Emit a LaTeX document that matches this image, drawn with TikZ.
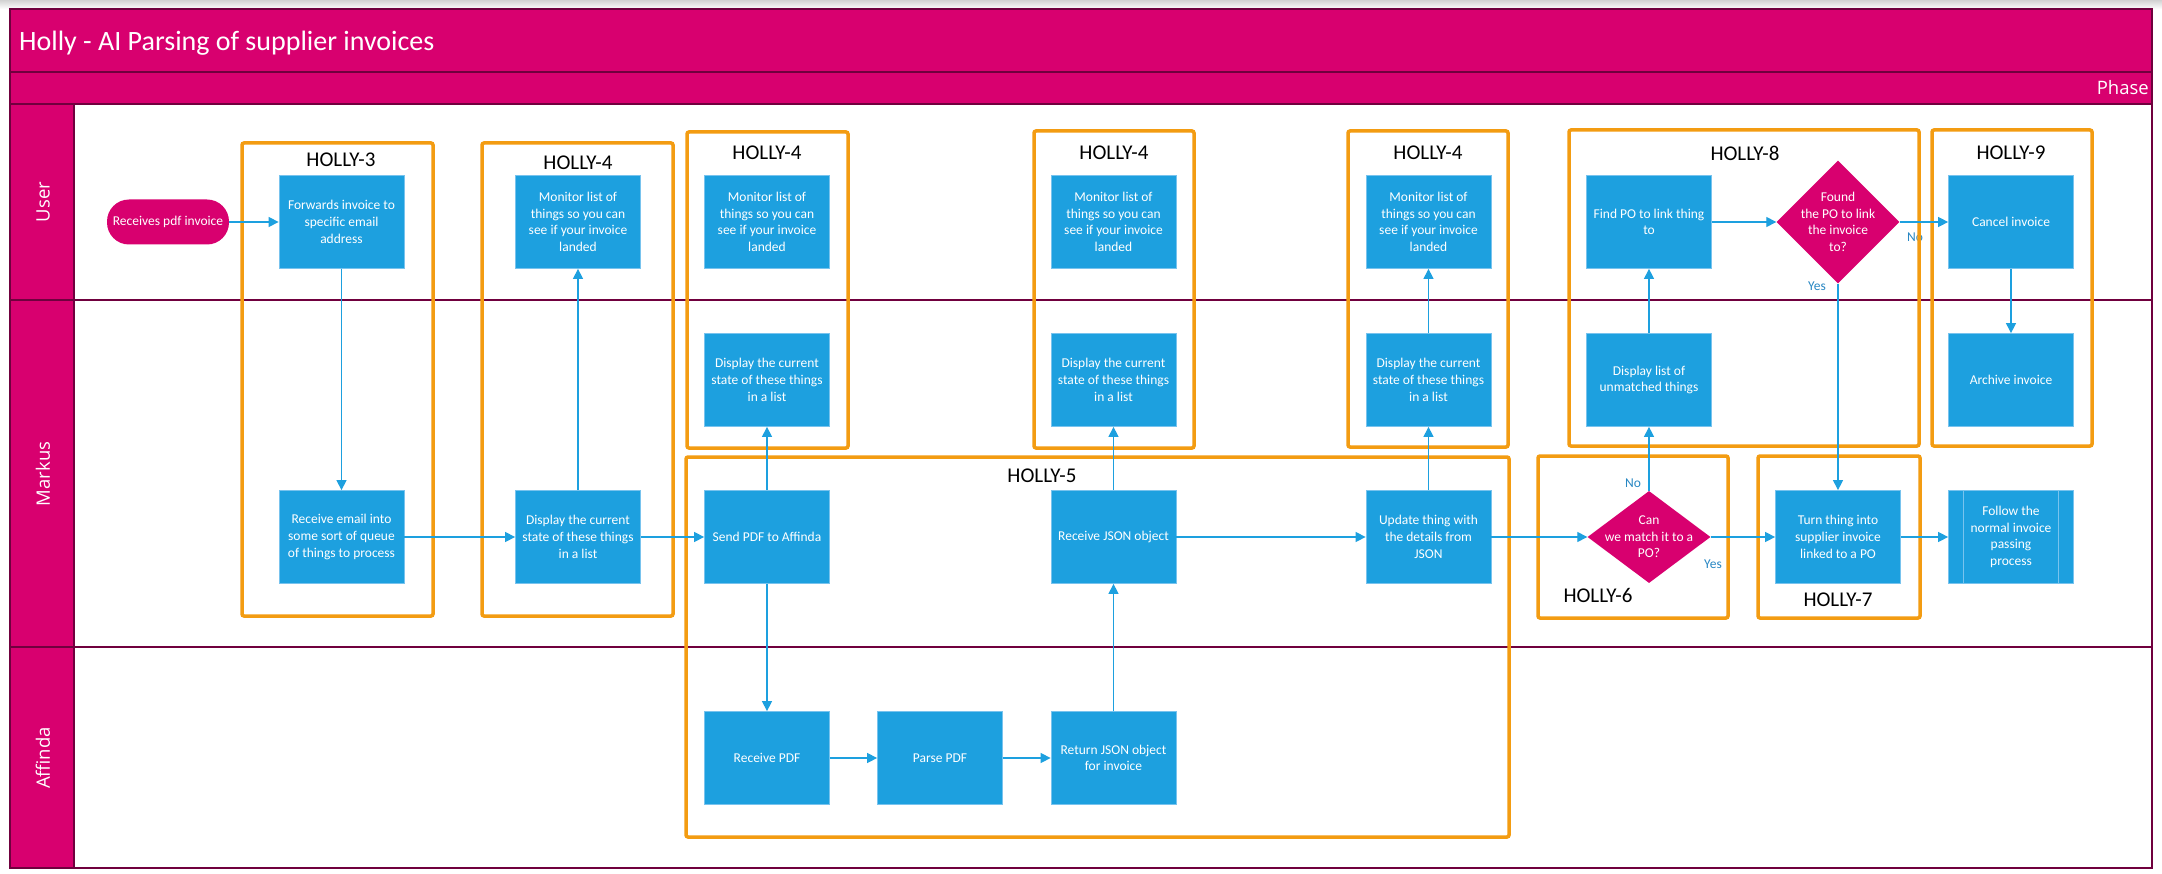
\documentclass[tikz,border=0pt]{standalone}
\usepackage{fontspec}
\setmainfont{Carlito}
\newfontfamily\lanefont{Open Sans}
\usetikzlibrary{shapes.geometric,arrows.meta}
\definecolor{pblue}{RGB}{29,160,223}
\definecolor{pedge}{RGB}{120,195,238}
\definecolor{pmag}{RGB}{216,0,111}
\definecolor{pdark}{RGB}{112,0,62}
\definecolor{porange}{RGB}{243,156,18}
\definecolor{plabel}{RGB}{40,135,195}
\begin{document}
\begin{tikzpicture}[x=1pt,y=-1pt,
  proc/.style={rectangle, fill=pblue, draw=pedge, line width=0.8pt, minimum width=125pt, minimum height=93pt, inner sep=0pt, text=white, align=center, font=\fontsize{13.5}{16.7}\selectfont},
  term/.style={rectangle, rounded corners=22pt, fill=pmag, minimum width=122pt, minimum height=45pt, inner sep=0pt, text=white, font=\fontsize{13.5}{16.7}\selectfont},
  decision/.style={diamond, fill=pmag, draw=none, inner sep=0pt, minimum width=123pt, minimum height=123pt},
  dtext/.style={text=white, align=center, inner sep=0pt, font=\fontsize{13.5}{16.5}\selectfont},
  group/.style={draw=porange, line width=3.5pt, rounded corners=2pt},
  hl/.style={text=black, inner sep=0pt, font=\fontsize{21}{25}\selectfont},
  yn/.style={text=plabel, inner sep=0pt, font=\fontsize{13.5}{16}\selectfont},
  lanelab/.style={text=white, inner sep=0pt, rotate=90, font=\lanefont\fontsize{18.5}{22}\selectfont},
  lane/.style={draw=pdark, line width=2pt},
  arr/.style={draw=pblue, line width=1.3pt, -{Triangle[length=10pt,width=10pt]}}
]
\useasboundingbox (0,0) rectangle (2162,874);
\fill[white] (0,0) rectangle (2162,874);
\shade[top color=gray!35, bottom color=white] (0,0) rectangle (2162,9);

% pool frame
\fill[pmag] (10,9) rectangle (2152,104);
\fill[pmag] (10,104) rectangle (74,868);
\draw[lane, line width=1.5pt] (10,72) -- (2152,72);
\draw[lane] (10,104) -- (2152,104);
\draw[lane] (74,104) -- (74,868);
\draw[lane] (10,300) -- (2152,300);
\draw[lane] (10,647) -- (2152,647);
\draw[lane] (10,9) rectangle (2152,868);

\node[anchor=base west, text=white, inner sep=0pt, font=\fontsize{28}{32}\selectfont] (title) at (19,51) {Holly - AI Parsing of supplier invoices};
\node[anchor=base east, text=white, inner sep=0pt, font=\lanefont\fontsize{18.5}{22}\selectfont] (phase) at (2149,95) {Phase};
\node[lanelab] (lu) at (43,202) {User};
\node[lanelab] (lm) at (43,474) {Markus};
\node[lanelab] (la) at (43,758) {Affinda};

% yes/no label under the HOLLY-8 frame edge
\node[yn, anchor=west] (no2) at (1907,237) {No};

% groups
\draw[group] (242,143) rectangle (433,616);
\draw[group] (482,143) rectangle (673,616);
\draw[group] (687,132) rectangle (848,448);
\draw[group] (1034,131) rectangle (1194,448);
\draw[group] (1348,131) rectangle (1508,447);
\draw[group] (1569,130) rectangle (1919,446);
\draw[group] (1932,130) rectangle (2092,446);
\draw[group] (686,457) rectangle (1509,837);
\draw[group] (1538,456) rectangle (1728,618);
\draw[group] (1758,456) rectangle (1920,618);

\node[hl] (h3) at (341,160) {HOLLY-3};
\node[hl] (h4a) at (578,163) {HOLLY-4};
\node[hl] (h4b) at (767,153) {HOLLY-4};
\node[hl] (h4c) at (1114,153) {HOLLY-4};
\node[hl] (h4d) at (1428,153) {HOLLY-4};
\node[hl] (h8) at (1745,153) {HOLLY-8};
\node[hl] (h9) at (2011,153) {HOLLY-9};
\node[hl] (h5) at (1042,476) {HOLLY-5};
\node[hl] (h6) at (1598,595) {HOLLY-6};
\node[hl] (h7) at (1838,600) {HOLLY-7};

% User lane
\node[term] (start) at (168,222) {Receives pdf invoice};
\node[proc] (fwd) at (341.5,222) {Forwards invoice to\\specific email\\address};
\node[proc] (mon1) at (578,222) {Monitor list of\\things so you can\\see if your invoice\\landed};
\node[proc] (mon2) at (767,222) {Monitor list of\\things so you can\\see if your invoice\\landed};
\node[proc] (mon3) at (1113.5,222) {Monitor list of\\things so you can\\see if your invoice\\landed};
\node[proc] (mon4) at (1428.5,222) {Monitor list of\\things so you can\\see if your invoice\\landed};
\node[proc] (find) at (1649,222) {Find PO to link thing\\to};
\node[decision] (found) at (1838,222) {};
\node[dtext] (foundt) at (found.center) {Found\\the PO to link\\the invoice\\to?};
\node[proc] (cancel) at (2011,222) {Cancel invoice};

% Markus lane, upper row
\node[proc] (disp2) at (767,380) {Display the current\\state of these things\\in a list};
\node[proc] (disp3) at (1113.5,380) {Display the current\\state of these things\\in a list};
\node[proc] (disp4) at (1428.5,380) {Display the current\\state of these things\\in a list};
\node[proc] (dlist) at (1649,380) {Display list of\\unmatched things};
\node[proc] (archive) at (2011,380) {Archive invoice};

% Markus lane, lower row
\node[proc] (recv) at (341.5,537) {Receive email into\\some sort of queue\\of things to process};
\node[proc] (disp1) at (578,537) {Display the current\\state of these things\\in a list};
\node[proc] (send) at (767,537) {Send PDF to Affinda};
\node[proc] (rjson) at (1113.5,537) {Receive JSON object};
\node[proc] (upd) at (1428.5,537) {Update thing with\\the details from\\JSON};
\node[decision, minimum height=92pt] (can) at (1649,537) {};
\node[dtext] (cant) at (can.center) {Can\\we match it to a\\PO?};
\node[proc] (turn) at (1838,537) {Turn thing into\\supplier invoice\\linked to a PO};
\node[proc] (follow) at (2011,537) {Follow the\\normal invoice\\passing\\process};
\draw[pedge, line width=1pt] ([xshift=15.5pt]follow.north west) -- ([xshift=15.5pt]follow.south west);
\draw[pedge, line width=1pt] ([xshift=-15.5pt]follow.north east) -- ([xshift=-15.5pt]follow.south east);

% Affinda lane
\node[proc] (rpdf) at (767,758) {Receive PDF};
\node[proc] (parse) at (940,758) {Parse PDF};
\node[proc] (ret) at (1113.5,758) {Return JSON object\\for invoice};

% connectors
\draw[arr] (start.east) -- (fwd.west);
\draw[arr] (fwd.south) -- (recv.north);
\draw[arr] (recv.east) -- (disp1.west);
\draw[arr] (disp1.north) -- (mon1.south);
\draw[arr] (disp1.east) -- (send.west);
\draw[arr] (send.north) -- (disp2.south);
\draw[arr] (send.south) -- (rpdf.north);
\draw[arr] (rpdf.east) -- (parse.west);
\draw[arr] (parse.east) -- (ret.west);
\draw[arr] (ret.north) -- (rjson.south);
\draw[arr] (rjson.north) -- (disp3.south);
\draw[arr] (rjson.east) -- (upd.west);
\draw[arr] (upd.north) -- (disp4.south);
\draw[arr] (disp4.north) -- (mon4.south);
\draw[arr] (upd.east) -- (can.west);
\draw[arr] (can.north) -- (dlist.south);
\draw[arr] (can.east) -- (turn.west);
\draw[arr] (dlist.north) -- (find.south);
\draw[arr] (find.east) -- (found.west);
\draw[arr] (found.east) -- (cancel.west);
\draw[arr] (found.south) -- (turn.north);
\draw[arr] (cancel.south) -- (archive.north);
\draw[arr] (turn.east) -- (follow.west);

\node[yn] (no1) at (1633,483) {No};
\node[yn] (yes1) at (1713,564) {Yes};
\node[yn] (yes2) at (1817,286) {Yes};
\end{tikzpicture}
\end{document}
